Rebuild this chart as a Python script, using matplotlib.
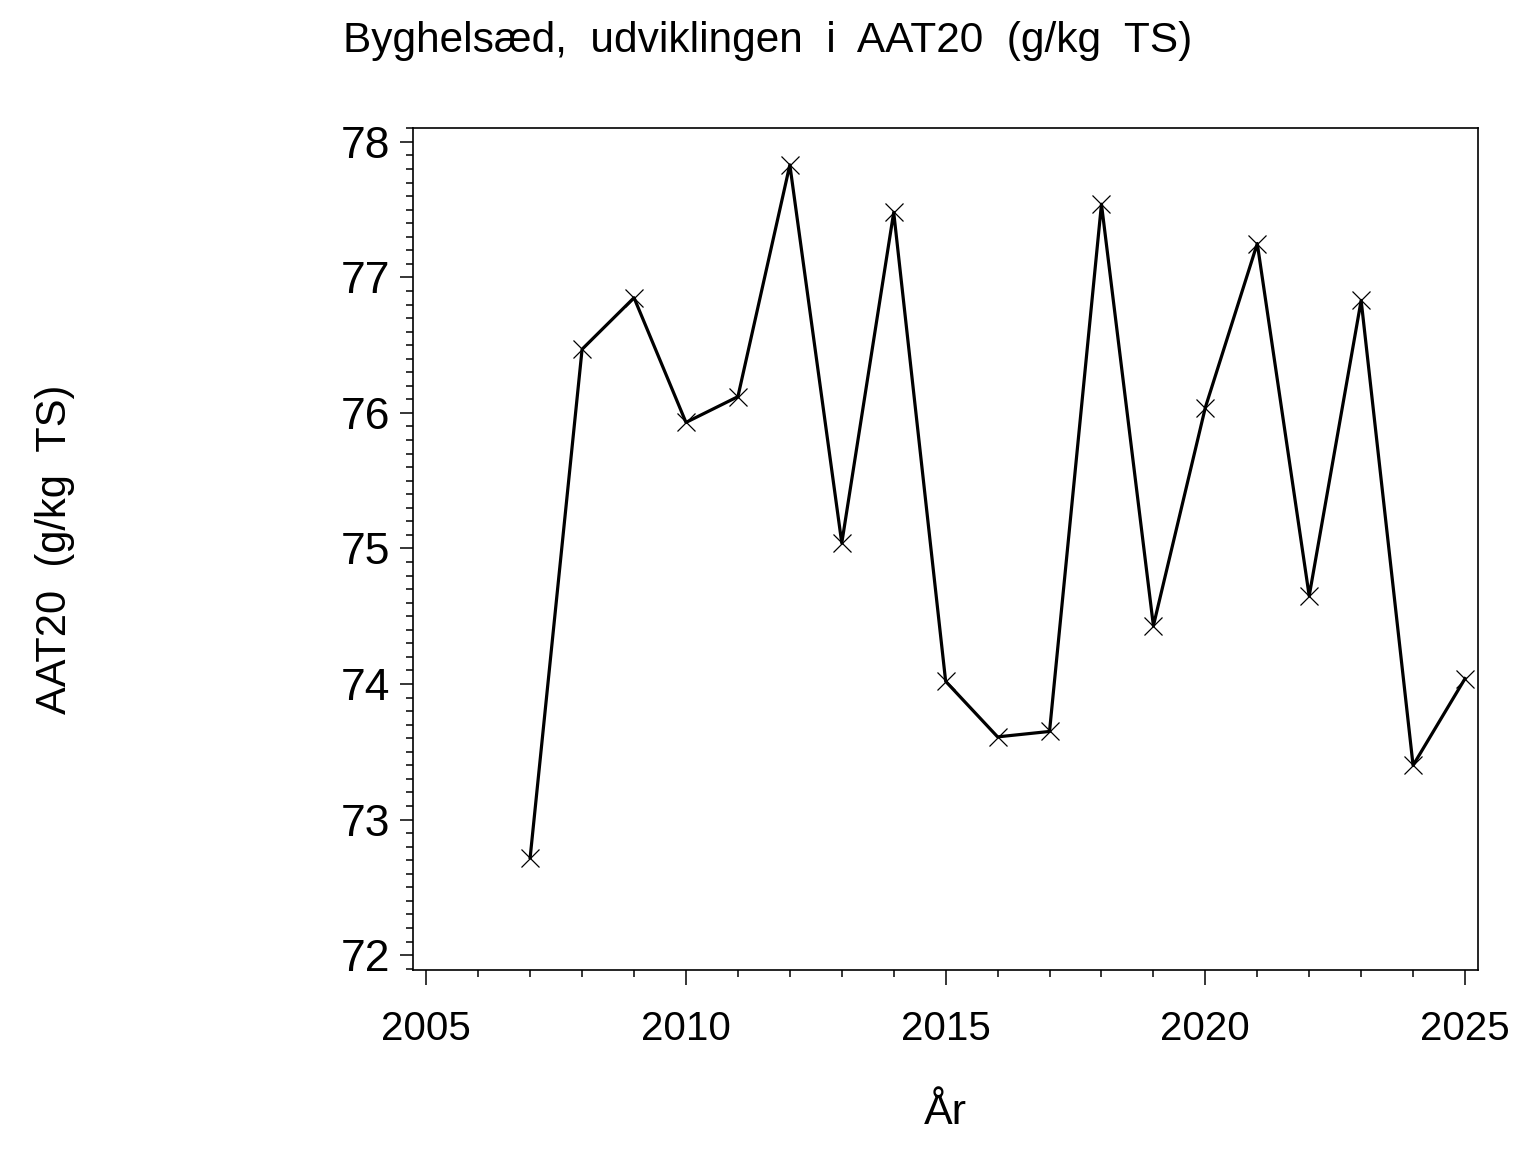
import matplotlib
matplotlib.use("Agg")
import matplotlib.pyplot as plt
from matplotlib.ticker import MultipleLocator

years = [2007, 2008, 2009, 2010, 2011, 2012, 2013, 2014, 2015, 2016,
         2017, 2018, 2019, 2020, 2021, 2022, 2023, 2024, 2025]
aat20 = [72.72, 76.47, 76.85, 75.93, 76.12, 77.83, 75.04, 77.48, 74.02, 73.61,
         73.65, 77.54, 74.43, 76.04, 77.25, 74.65, 76.83, 73.40, 74.04]

title = "Byghelsæd,  udviklingen  i  AAT20  (g/kg  TS)"
ylabel = "AAT20  (g/kg  TS)"
xlabel = "År"
xticks = [2005, 2010, 2015, 2020, 2025]
yticks = [72, 73, 74, 75, 76, 77, 78]

plt.rcParams['font.family'] = ['Liberation Sans', 'DejaVu Sans']

fig = plt.figure(figsize=(15.36, 11.52), dpi=100)
ax = fig.add_axes([413.3/1536, (1152-970)/1152, (1478-413.3)/1536, (970-128.3)/1152])

ax.plot(years, aat20, color='black', lw=2.3, marker='x', markersize=13,
        markeredgewidth=0.9, markeredgecolor='black')

ax.set_xlim(2004.75, 2025.25)
ax.set_ylim(71.89, 78.10)
ax.set_xticks(xticks)
ax.set_yticks(yticks)
ax.xaxis.set_minor_locator(MultipleLocator(1))
ax.yaxis.set_minor_locator(MultipleLocator(0.1))

for s in ax.spines.values():
    s.set_linewidth(1.2)

ax.tick_params(axis='x', which='major', length=11, width=1.1, labelsize=29, pad=18)
ax.tick_params(axis='x', which='minor', length=5, width=1.1)
ax.tick_params(axis='y', which='major', length=9.5, width=1.1, labelsize=32, pad=7)
ax.tick_params(axis='y', which='minor', length=4.8, width=1.1)

ax.set_xlabel(xlabel, fontsize=31, labelpad=32)
fig.text(55/1536, 1 - 549/1152, ylabel, rotation=90, fontsize=30,
         ha='center', va='center')
fig.text(0.5, 1 - 41/1152, title, fontsize=30.5, ha='center', va='center')

fig.savefig("out.png", dpi=100, facecolor='white')
